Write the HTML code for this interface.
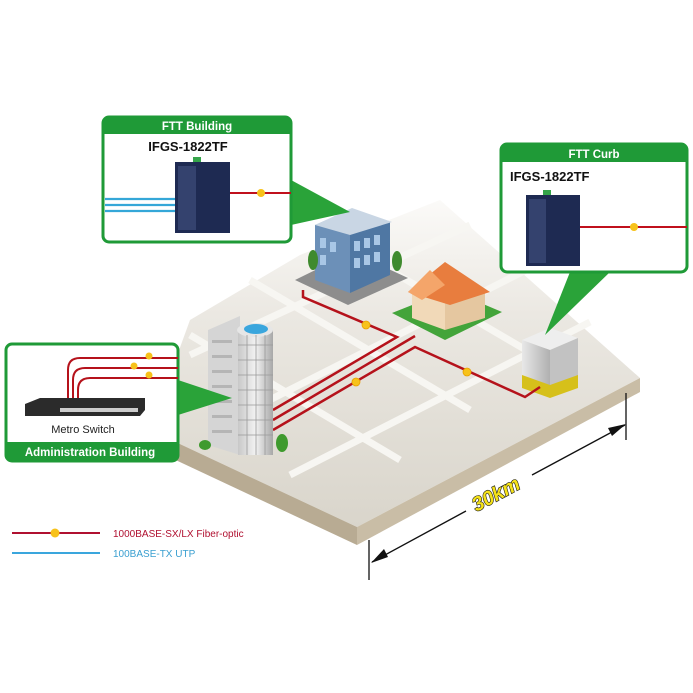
<!DOCTYPE html>
<html><head><meta charset="utf-8"><style>
html,body{margin:0;padding:0;background:#fff;}
svg{display:block;font-family:"Liberation Sans",sans-serif;}
</style></head><body>
<svg width="693" height="693" viewBox="0 0 693 693" xmlns="http://www.w3.org/2000/svg">
<defs>
<linearGradient id="pl" x1="0" y1="0" x2="0" y2="1"><stop offset="0" stop-color="#fbfaf8"/><stop offset="0.35" stop-color="#ebe8e2"/><stop offset="1" stop-color="#d9d5cb"/></linearGradient>
<linearGradient id="tw" x1="0" y1="0" x2="1" y2="0"><stop offset="0" stop-color="#c8c8c8"/><stop offset="0.5" stop-color="#f2f2f2"/><stop offset="1" stop-color="#a8a8a8"/></linearGradient>
<linearGradient id="cab" x1="0" y1="0" x2="1" y2="0"><stop offset="0" stop-color="#e8e8e8"/><stop offset="1" stop-color="#b0b0b0"/></linearGradient>
</defs>
<!-- platform -->
<polygon points="150,430 190,320 300,255 440,200 640,378 357,527" fill="url(#pl)"/>
<polygon points="150,430 357,527 357,545 150,448" fill="#b8ab93"/>
<polygon points="357,527 640,378 640,392 357,545" fill="#c9bda6"/>
<!-- streets -->
<g stroke="#f7f6f2" stroke-width="7" fill="none">
<line x1="190" y1="355" x2="470" y2="225"/>
<line x1="240" y1="415" x2="530" y2="268"/>
<line x1="290" y1="475" x2="590" y2="322"/>
<line x1="250" y1="280" x2="470" y2="410"/>
<line x1="330" y1="235" x2="560" y2="370"/>
<line x1="190" y1="335" x2="400" y2="460"/>
</g>
<!-- blue building -->
<polygon points="295,280 352,252 408,278 348,305" fill="#8d8d8d"/>
<polygon points="315,225 350,210 350,293 315,280" fill="#6c90b8"/>
<polygon points="350,210 390,222 390,275 350,293" fill="#4f77a3"/>
<polygon points="315,225 352,208 392,222 350,235" fill="#c9d6e4"/>
<g fill="#a9c7e6"><rect x="320" y="238" width="6" height="10"/><rect x="330" y="242" width="6" height="10"/><rect x="320" y="255" width="6" height="10"/><rect x="354" y="241" width="6" height="10"/><rect x="364" y="238" width="6" height="10"/><rect x="374" y="235" width="6" height="10"/><rect x="354" y="258" width="6" height="10"/><rect x="364" y="255" width="6" height="10"/><rect x="374" y="252" width="6" height="10"/></g>
<ellipse cx="313" cy="260" rx="5" ry="10" fill="#3f8a2e"/><ellipse cx="397" cy="261" rx="5" ry="10" fill="#3f8a2e"/>
<!-- house -->
<polygon points="392,313 450,290 502,312 445,340" fill="#43a43a"/>
<polygon points="412,290 445,282 445,330 412,318" fill="#f1d9b8"/>
<polygon points="445,282 485,292 485,318 445,330" fill="#e5c7a0"/>
<polygon points="408,292 445,262 490,292 450,305" fill="#e87d3e"/>
<polygon points="408,292 430,270 445,285 422,300" fill="#f4a56a"/>
<!-- cabinet -->
<polygon points="522,340 550,328 578,338 550,350" fill="#eeeeee"/>
<polygon points="522,340 550,350 550,393 522,383" fill="url(#cab)"/>
<polygon points="550,350 578,338 578,383 550,393" fill="#c2c2c2"/>
<polygon points="522,375 550,385 578,375 578,388 550,398 522,388" fill="#d6c01a"/>
<!-- red fiber lines -->
<g stroke="#b5121b" stroke-width="2.5" fill="none">
<polyline points="303,290 303,297 397,337 273,410"/>
<polyline points="415,336 273,420"/>
<polyline points="540,387 525,397 415,347 273,430"/>
</g>
<g fill="#f7c21a" stroke="#e8a000" stroke-width="0.8"><circle cx="366" cy="325" r="4"/><circle cx="356" cy="382" r="4"/><circle cx="467" cy="372" r="4"/></g>
<!-- tower -->
<polygon points="208,330 240,316 240,455 208,445" fill="#d5d5d5"/>
<rect x="238" y="330" width="35" height="125" fill="url(#tw)"/>
<ellipse cx="255" cy="330" rx="18" ry="7" fill="#e6e6e6"/>
<ellipse cx="256" cy="329" rx="12" ry="5" fill="#3aa6dd"/>
<g stroke="#999" stroke-width="0.8">
<line x1="238" y1="345" x2="273" y2="345"/><line x1="238" y1="360" x2="273" y2="360"/><line x1="238" y1="375" x2="273" y2="375"/><line x1="238" y1="390" x2="273" y2="390"/><line x1="238" y1="405" x2="273" y2="405"/><line x1="238" y1="420" x2="273" y2="420"/><line x1="238" y1="435" x2="273" y2="435"/>
<line x1="247" y1="335" x2="247" y2="455"/><line x1="256" y1="335" x2="256" y2="455"/><line x1="265" y1="335" x2="265" y2="455"/>
</g>
<g fill="#b5b5b5"><rect x="212" y="340" width="20" height="3"/><rect x="212" y="355" width="20" height="3"/><rect x="212" y="370" width="20" height="3"/><rect x="212" y="385" width="20" height="3"/><rect x="212" y="400" width="20" height="3"/><rect x="212" y="415" width="20" height="3"/><rect x="212" y="430" width="20" height="3"/></g>
<ellipse cx="282" cy="443" rx="6" ry="9" fill="#3f9a2e"/><ellipse cx="205" cy="445" rx="6" ry="5" fill="#3f9a2e"/>
<!-- pointers -->
<polygon points="291,180 291,225 350,212" fill="#2aa339"/>
<polygon points="570,272 610,272 545,335" fill="#2aa339"/>
<polygon points="178,380 178,415 232,398" fill="#2aa339"/>
<!-- FTT Building box -->
<rect x="103" y="117" width="188" height="125" rx="6" fill="#fff" stroke="#1f9a37" stroke-width="3"/>
<path d="M103,134 V123 a6,6 0 0 1 6,-6 H285 a6,6 0 0 1 6,6 V134Z" fill="#1f9a37"/>
<text x="197" y="130" font-size="11.5" font-weight="bold" fill="#fff" text-anchor="middle">FTT Building</text>
<text x="188" y="151" font-size="13" font-weight="bold" fill="#111" text-anchor="middle">IFGS-1822TF</text>
<g stroke="#35a7d8" stroke-width="2.2"><line x1="105" y1="199" x2="177" y2="199"/><line x1="105" y1="205" x2="177" y2="205"/><line x1="105" y1="211" x2="177" y2="211"/></g>
<line x1="230" y1="193" x2="291" y2="193" stroke="#c0101c" stroke-width="2"/>
<circle cx="261" cy="193" r="4" fill="#f7c21a"/>
<rect x="175" y="162" width="55" height="71" fill="#1e2a52"/>
<rect x="178" y="166" width="18" height="64" fill="#34426e"/>
<rect x="193" y="157" width="8" height="5" fill="#35a54a"/>
<!-- FTT Curb box -->
<rect x="501" y="144" width="186" height="128" rx="6" fill="#fff" stroke="#1f9a37" stroke-width="3"/>
<path d="M501,162 V150 a6,6 0 0 1 6,-6 H681 a6,6 0 0 1 6,6 V162Z" fill="#1f9a37"/>
<text x="594" y="158" font-size="11.5" font-weight="bold" fill="#fff" text-anchor="middle">FTT Curb</text>
<text x="510" y="181" font-size="13" font-weight="bold" fill="#111">IFGS-1822TF</text>
<line x1="580" y1="227" x2="687" y2="227" stroke="#c0101c" stroke-width="2"/>
<circle cx="634" cy="227" r="4" fill="#f7c21a"/>
<rect x="526" y="195" width="54" height="71" fill="#1e2a52"/>
<rect x="529" y="199" width="17" height="64" fill="#34426e"/>
<rect x="543" y="190" width="8" height="5" fill="#35a54a"/>
<!-- Admin box -->
<rect x="6" y="344" width="172" height="117" rx="6" fill="#fff" stroke="#1f9a37" stroke-width="3"/>
<path d="M6,442 H178 V455 a6,6 0 0 1 -6,6 H12 a6,6 0 0 1 -6,-6Z" fill="#1f9a37"/>
<text x="90" y="456" font-size="11.5" font-weight="bold" fill="#fff" text-anchor="middle">Administration Building</text>
<g stroke="#b5121b" stroke-width="2" fill="none">
<path d="M68,410 V370 q0,-12 12,-12 H178"/><path d="M73,410 V380 q0,-12 12,-12 H178"/><path d="M78,410 V390 q0,-12 12,-12 H178"/>
</g>
<g fill="#f7c21a"><circle cx="149" cy="356" r="3.5"/><circle cx="134" cy="366" r="3.5"/><circle cx="149" cy="375" r="3.5"/></g>
<polygon points="25,404 40,398 145,398 145,410 140,416 25,416" fill="#2b2b2b"/>
<rect x="60" y="408" width="78" height="4" fill="#ccc"/>
<text x="83" y="433" font-size="11" fill="#222" text-anchor="middle">Metro Switch</text>
<!-- dimension -->
<g stroke="#111" stroke-width="1.3"><line x1="369" y1="540" x2="369" y2="580"/><line x1="626" y1="393" x2="626" y2="440"/><line x1="372" y1="562" x2="466" y2="511"/><line x1="532" y1="475" x2="625" y2="425"/></g>
<polygon points="371,563 384,549 388,557" fill="#111"/>
<polygon points="626,424 612,436 608,428" fill="#111"/>
<text transform="translate(499,500) rotate(-28)" font-size="20" font-weight="bold" font-style="italic" fill="#f5e21a" stroke="#111" stroke-width="1.2" paint-order="stroke" text-anchor="middle">30km</text>
<!-- legend -->
<line x1="12" y1="533" x2="100" y2="533" stroke="#b01030" stroke-width="2"/>
<circle cx="55" cy="533" r="4.5" fill="#f7c21a"/>
<text x="113" y="537" font-size="10" fill="#b01030">1000BASE-SX/LX Fiber-optic</text>
<line x1="12" y1="553" x2="100" y2="553" stroke="#3aa6dd" stroke-width="2"/>
<text x="113" y="557" font-size="10" fill="#3a9fd0">100BASE-TX UTP</text>
</svg>
</body></html>
